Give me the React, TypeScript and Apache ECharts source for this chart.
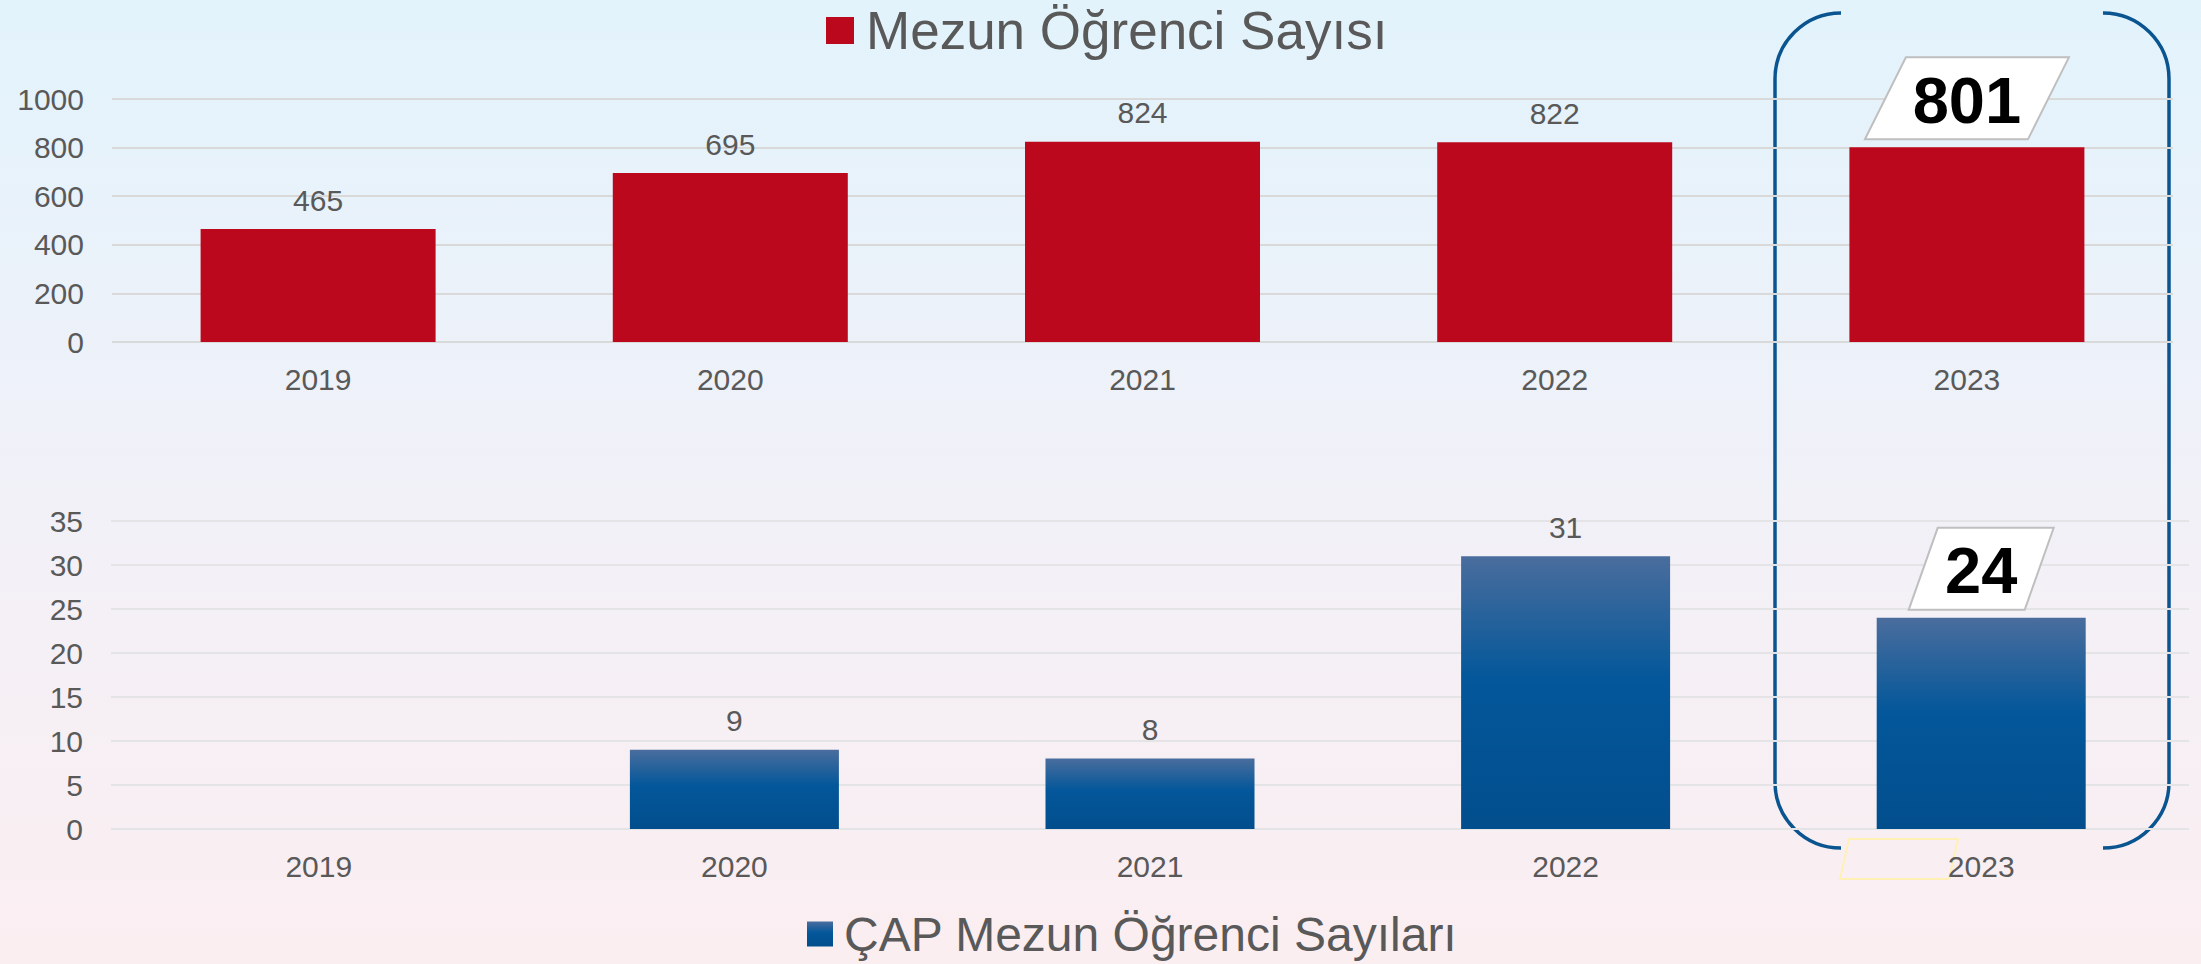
import React, { useEffect, useRef } from "react";
import * as echarts from "echarts";

const years = ["2019", "2020", "2021", "2022", "2023"];
const graduates = [465, 695, 824, 822, 801];
const capGraduates: (number | null)[] = [null, 9, 8, 31, 24];
const highlightIndex = 4;
const topSeriesName = "Mezun Öğrenci Sayısı";
const bottomSeriesName = "ÇAP Mezun Öğrenci Sayıları";

const FONT = "'Liberation Sans', Arial, sans-serif";
const GREY = "#595959";
const BRACKET = "#0A5590";

function highlightRenderer(a: number, b: number) {
  return (params: any, api: any) => {
    const idx = api.value(0);
    const val = api.value(1);
    const p = api.coord([idx, val]);
    const cx = p[0];
    const bot = p[1] - 8;
    const top = bot - 82;
    return {
      type: "group",
      children: [
        {
          type: "polygon",
          shape: { points: [[cx - a, top], [cx + b, top], [cx + a, bot], [cx - b, bot]] },
          style: { fill: "#ffffff", stroke: "#BFBFBF", lineWidth: 2 },
        },
        {
          type: "text",
          x: cx,
          y: (top + bot) / 2 + 2,
          style: {
            text: String(val),
            fill: "#000000",
            fontSize: 65,
            fontWeight: "bold",
            fontFamily: FONT,
            align: "center",
            verticalAlign: "middle",
          },
        },
      ],
    };
  };
}

export default function App() {
  const ref = useRef<HTMLDivElement>(null);
  useEffect(() => {
    if (!ref.current) return;
    const chart = echarts.init(ref.current, null, { renderer: "svg" });
    const blueGrad = new echarts.graphic.LinearGradient(0, 0, 0, 1, [
      { offset: 0, color: "#4A6D9D" },
      { offset: 0.45, color: "#03579A" },
      { offset: 1, color: "#024E8D" },
    ]);
    const labelStyle = { show: true, position: "top", distance: 14, color: GREY, fontSize: 30, fontFamily: FONT };
    const axisLabel = { color: GREY, fontSize: 30, fontFamily: FONT };
    chart.setOption({
      animation: false,
      backgroundColor: new echarts.graphic.LinearGradient(0, 0, 0, 1, [
        { offset: 0, color: "#E2F3FC" },
        { offset: 0.5, color: "#F1F1F8" },
        { offset: 1, color: "#FBEEF1" },
      ]),
      legend: [
        {
          data: [topSeriesName],
          left: 826,
          top: 4,
          padding: 0,
          icon: "rect",
          itemWidth: 28,
          itemHeight: 27,
          itemGap: 0,
          textStyle: { color: GREY, fontSize: 53, fontFamily: FONT, padding: [0, 0, 0, 7] },
        },
        {
          data: [bottomSeriesName],
          left: 807,
          top: 910,
          padding: 0,
          icon: "rect",
          itemWidth: 26,
          itemHeight: 25,
          itemGap: 0,
          textStyle: { color: GREY, fontSize: 48, fontFamily: FONT, padding: [0, 0, 0, 6] },
        },
      ],
      grid: [
        { left: 112, right: 28, top: 99, height: 243 },
        { left: 111, right: 12, top: 521, height: 308 },
      ],
      xAxis: [
        {
          type: "category",
          data: years,
          gridIndex: 0,
          axisLine: { show: false },
          axisTick: { show: false },
          axisLabel: { ...axisLabel, margin: 22 },
        },
        {
          type: "category",
          data: years,
          gridIndex: 1,
          axisLine: { show: false },
          axisTick: { show: false },
          axisLabel: { ...axisLabel, margin: 22 },
        },
      ],
      yAxis: [
        {
          type: "value",
          gridIndex: 0,
          min: 0,
          max: 1000,
          interval: 200,
          axisLabel: { ...axisLabel, margin: 28, formatter: (v: number) => String(v) },
          splitLine: { lineStyle: { color: "#D9D9D9", width: 2 } },
        },
        {
          type: "value",
          gridIndex: 1,
          min: 0,
          max: 35,
          interval: 5,
          axisLabel: { ...axisLabel, margin: 28, formatter: (v: number) => String(v) },
          splitLine: { lineStyle: { color: "#E4E4E6", width: 2 } },
        },
      ],
      series: [
        {
          name: topSeriesName,
          type: "bar",
          xAxisIndex: 0,
          yAxisIndex: 0,
          barWidth: 235,
          itemStyle: { color: "#BC081D" },
          label: labelStyle,
          data: graduates.map((v, i) => ({ value: v, label: { show: i !== highlightIndex } })),
        },
        {
          name: bottomSeriesName,
          type: "bar",
          xAxisIndex: 1,
          yAxisIndex: 1,
          barWidth: 209,
          itemStyle: { color: blueGrad },
          label: labelStyle,
          data: capGraduates.map((v, i) => ({ value: v, label: { show: i !== highlightIndex } })),
        },
        {
          name: "highlightTop",
          type: "custom",
          xAxisIndex: 0,
          yAxisIndex: 0,
          z: 10,
          clip: false,
          renderItem: highlightRenderer(61, 102),
          data: [[highlightIndex, graduates[highlightIndex]]],
        },
        {
          name: "highlightBottom",
          type: "custom",
          xAxisIndex: 1,
          yAxisIndex: 1,
          z: 10,
          clip: false,
          renderItem: highlightRenderer(43.5, 72.5),
          data: [[highlightIndex, capGraduates[highlightIndex]]],
        },
      ],
      graphic: [
        { type: "arc", shape: { cx: 1841, cy: 79, r: 66, startAngle: Math.PI, endAngle: Math.PI * 1.5, clockwise: true }, style: { stroke: BRACKET, lineWidth: 3.5, fill: "none" } },
        { type: "line", shape: { x1: 1775, y1: 79, x2: 1775, y2: 782 }, style: { stroke: BRACKET, lineWidth: 3.5 } },
        { type: "arc", shape: { cx: 1841, cy: 782, r: 66, startAngle: Math.PI * 0.5, endAngle: Math.PI, clockwise: true }, style: { stroke: BRACKET, lineWidth: 3.5, fill: "none" } },
        { type: "arc", shape: { cx: 2103, cy: 79, r: 66, startAngle: Math.PI * 1.5, endAngle: Math.PI * 2, clockwise: true }, style: { stroke: BRACKET, lineWidth: 3.5, fill: "none" } },
        { type: "line", shape: { x1: 2169, y1: 79, x2: 2169, y2: 782 }, style: { stroke: BRACKET, lineWidth: 3.5 } },
        { type: "arc", shape: { cx: 2103, cy: 782, r: 66, startAngle: 0, endAngle: Math.PI * 0.5, clockwise: true }, style: { stroke: BRACKET, lineWidth: 3.5, fill: "none" } },
        {
          type: "polygon",
          shape: { points: [[1849, 839], [1958, 839], [1949, 879], [1840, 879]] },
          style: { fill: "none", stroke: "#FFF1B5", lineWidth: 2 },
        },
      ],
    });
    return () => chart.dispose();
  }, []);
  return (
    <div
      ref={ref}
      style={{ position: "absolute", left: 0, top: 0, width: 2201, height: 964 }}
    />
  );
}
